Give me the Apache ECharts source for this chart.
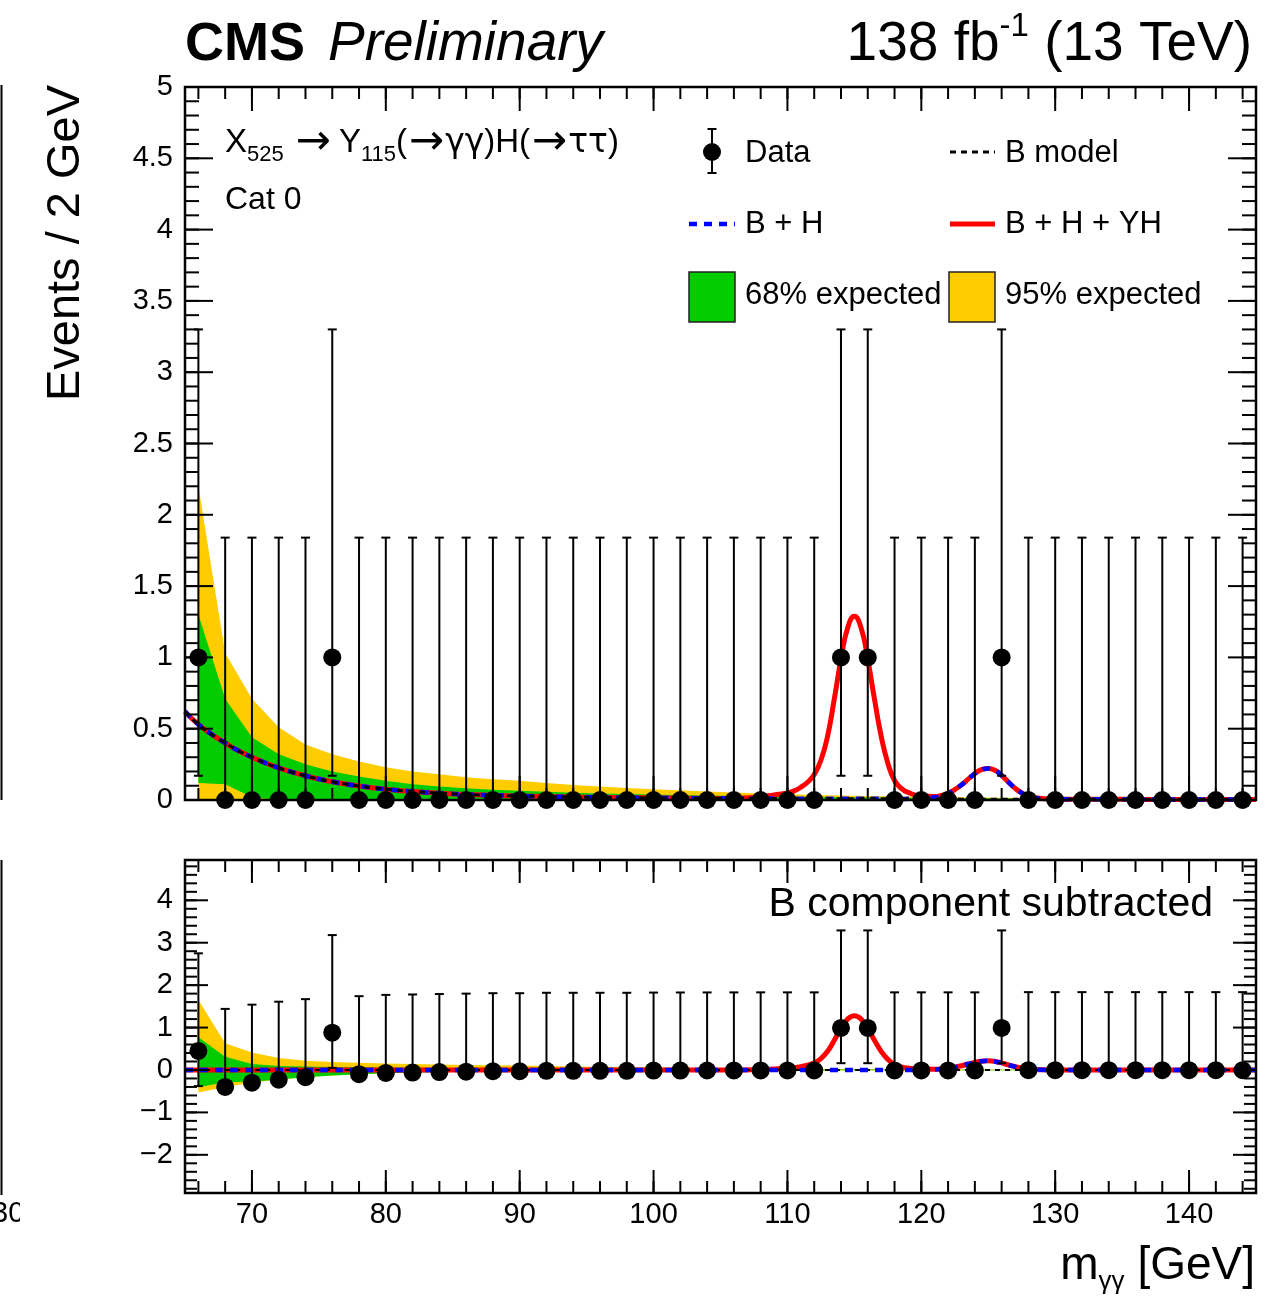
<!DOCTYPE html>
<html>
<head>
<meta charset="utf-8">
<title>X525 → Y115(→γγ)H(→ττ), Cat 0</title>
<script src="https://cdn.jsdelivr.net/npm/echarts@6/dist/echarts.min.js"></script>
<style>
  html, body { margin: 0; padding: 0; background: #fff; }
  #chart { width: 1277px; height: 1297px; }
</style>
</head>
<body>
<div id="chart"></div>
<script>
// observed events, 2 GeV bins
var binCenters = [66, 68, 70, 72, 74, 76, 78, 80, 82, 84, 86, 88, 90, 92, 94, 96, 98, 100, 102, 104,
                  106, 108, 110, 112, 114, 116, 118, 120, 122, 124, 126, 128, 130, 132, 134, 136, 138, 140, 142, 144];
var counts = [1, 0, 0, 0, 0, 1, 0, 0, 0, 0, 0, 0, 0, 0, 0, 0, 0, 0, 0, 0,
              0, 0, 0, 0, 1, 1, 0, 0, 0, 0, 1, 0, 0, 0, 0, 0, 0, 0, 0, 0];
// data minus B component (lower panel)
var residuals = [0.45, -0.40, -0.30, -0.23, -0.17, 0.88, -0.10, -0.07, -0.06, -0.05,
                 -0.04, -0.03, -0.03, -0.02, -0.02, -0.02, -0.02, -0.015, -0.013, -0.012,
                 -0.011, -0.01, -0.01, -0.01, 0.99, 0.99, -0.01, -0.01, -0.01, -0.01,
                 0.99, -0.005, -0.005, -0.005, -0.005, -0.005, -0.005, -0.005, -0.005, -0.005];
// poisson error bar sizes by count
var errUp = {0: 1.84, 1: 2.30};
var errDown = {0: 0, 1: 0.83};

// fit curves
var curveX = [65, 66, 67, 68, 69, 70, 71, 72, 73, 74, 75, 76, 77, 78, 79, 80,
              82, 84, 86, 88, 90, 92, 94, 96, 98, 100, 102, 104, 106, 108,
              109, 110,
              110.5, 111, 111.5, 112, 112.5, 113, 113.5, 114, 114.5, 115, 115.5, 116, 116.5, 117, 117.5, 118, 118.5, 119,
              120, 121,
              121.5, 122, 122.5, 123, 123.5, 124, 124.5, 125, 125.5, 126, 126.5, 127, 127.5, 128,
              129, 130,
              132, 134, 136, 138, 140, 142, 144, 145];
var bModel = [0.62, 0.53, 0.46, 0.40, 0.345, 0.30, 0.26, 0.225, 0.195, 0.17, 0.147, 0.128, 0.112, 0.098, 0.086, 0.076,
              0.060, 0.048, 0.039, 0.033, 0.028, 0.024, 0.021, 0.018, 0.016, 0.015, 0.013, 0.012, 0.011, 0.010,
              0.010, 0.009,
              0.009, 0.009, 0.009, 0.009, 0.009, 0.008, 0.008, 0.008, 0.008, 0.008, 0.008, 0.008, 0.008, 0.008, 0.008, 0.007, 0.007, 0.007,
              0.007, 0.007,
              0.007, 0.007, 0.007, 0.006, 0.006, 0.006, 0.006, 0.006, 0.006, 0.006, 0.006, 0.006, 0.006, 0.006,
              0.006, 0.005,
              0.005, 0.005, 0.004, 0.004, 0.004, 0.004, 0.004, 0.004];
var hSignal = [0, 0, 0, 0, 0, 0, 0, 0, 0, 0, 0, 0, 0, 0, 0, 0,
               0, 0, 0, 0, 0, 0, 0, 0, 0, 0, 0, 0, 0, 0,
               0, 0,
               0, 0, 0, 0, 0, 0, 0, 0, 0, 0, 0, 0, 0, 0, 0, 0, 0, 0.001,
               0.003, 0.012,
               0.022, 0.04, 0.066, 0.10, 0.14, 0.18, 0.207, 0.215, 0.202, 0.166, 0.12, 0.077, 0.043, 0.021,
               0.004, 0.001,
               0, 0, 0, 0, 0, 0, 0, 0];
var yhSignal = [0, 0, 0, 0, 0, 0, 0, 0, 0, 0, 0, 0, 0, 0, 0, 0,
                0, 0, 0, 0, 0, 0, 0, 0, 0, 0, 0, 0, 0, 0.012,
                0.025, 0.04,
                0.055, 0.08, 0.115, 0.17, 0.27, 0.44, 0.70, 0.98, 1.2, 1.28, 1.2, 0.98, 0.70, 0.44, 0.25, 0.13, 0.075, 0.045,
                0.018, 0.006,
                0.003, 0, 0, 0, 0, 0, 0, 0, 0, 0, 0, 0, 0, 0,
                0, 0,
                0, 0, 0, 0, 0, 0, 0, 0];

// expected bands
var bandX = [66, 68, 70, 72, 74, 76, 78, 80, 82, 84, 86, 88, 90, 92, 94, 96, 98, 100,
             104, 108, 112, 116, 120, 124, 128, 132, 136, 140, 144];
var band95Hi = [2.20, 1.03, 0.71, 0.51, 0.39, 0.32, 0.27, 0.23, 0.20, 0.18, 0.16, 0.145, 0.135, 0.12, 0.105, 0.095, 0.085, 0.075,
                0.06, 0.045, 0.035, 0.028, 0.022, 0.018, 0.014, 0.011, 0.009, 0.008, 0.007];
var band68Hi = [1.30, 0.71, 0.44, 0.32, 0.25, 0.20, 0.165, 0.135, 0.11, 0.095, 0.082, 0.072, 0.064, 0.057, 0.051, 0.046, 0.042, 0.038,
                0.031, 0.026, 0.021, 0.018, 0.015, 0.012, 0.010, 0.008, 0.007, 0.006, 0.005];
var band68Lo = [0.12, 0.11, 0.02, 0, 0, 0, 0, 0, 0, 0, 0, 0, 0, 0, 0, 0, 0, 0,
                0, 0, 0, 0, 0, 0, 0, 0, 0, 0, 0];
var band95Lo = [0, 0, 0, 0, 0, 0, 0, 0, 0, 0, 0, 0, 0, 0, 0, 0, 0, 0,
                0, 0, 0, 0, 0, 0, 0, 0, 0, 0, 0];
var sub95Hi = [1.65, 0.63, 0.41, 0.285, 0.22, 0.19, 0.17, 0.155, 0.14, 0.13, 0.12, 0.11, 0.105, 0.095, 0.085, 0.077, 0.07, 0.06,
               0.048, 0.035, 0.026, 0.02, 0.015, 0.012, 0.008, 0.006, 0.005, 0.004, 0.003];
var sub68Hi = [0.77, 0.31, 0.14, 0.095, 0.08, 0.072, 0.067, 0.059, 0.05, 0.047, 0.043, 0.039, 0.036, 0.033, 0.03, 0.028, 0.026, 0.023,
               0.019, 0.016, 0.012, 0.01, 0.008, 0.006, 0.004, 0.003, 0.003, 0.002, 0.001];
var sub68Lo = [-0.41, -0.29, -0.28, -0.225, -0.17, -0.128, -0.098, -0.076, -0.06, -0.048, -0.039, -0.033, -0.028, -0.024, -0.021, -0.018, -0.016, -0.015,
               -0.012, -0.010, -0.009, -0.008, -0.007, -0.006, -0.006, -0.005, -0.004, -0.004, -0.004];
var sub95Lo = [-0.53, -0.40, -0.30, -0.225, -0.17, -0.128, -0.098, -0.076, -0.06, -0.048, -0.039, -0.033, -0.028, -0.024, -0.021, -0.018, -0.016, -0.015,
               -0.012, -0.010, -0.009, -0.008, -0.007, -0.006, -0.006, -0.005, -0.004, -0.004, -0.004];

// tick labels
var xLabels = [70, 80, 90, 100, 110, 120, 130, 140];
var resYLabels = [-2, -1, 0, 1, 2, 3, 4];

var FONT = '"Liberation Sans", Arial, Helvetica, sans-serif';
var SYM = '"DejaVu Sans", sans-serif';
var GREEN = '#00cc00', YELLOW = '#ffcc00';

function range(a, b, step) {
    var out = [];
    for (var v = a; v <= b + 1e-9; v += step) out.push(Math.round(v * 1000) / 1000);
    return out;
}
var xMajorTicks = xLabels;
var xMinorTicks = range(66, 144, 2);

function pairs(xs, ys) {
    return xs.map(function (x, i) { return [x, ys[i]]; });
}

var bPlusH = bModel.map(function (b, i) { return b + hSignal[i]; });
var bPlusHPlusYH = bModel.map(function (b, i) { return b + hSignal[i] + yhSignal[i]; });
var hPlusYH = hSignal.map(function (h, i) { return h + yhSignal[i]; });
var bSubtracted = bModel.map(function () { return 0; });

function curve(name, grid, ys, color, width, dash, z) {
    return {
        type: 'line', name: name, xAxisIndex: grid, yAxisIndex: grid,
        data: pairs(curveX, ys), showSymbol: false, symbol: 'none',
        smooth: 0.5, silent: true, z: z,
        lineStyle: {color: color, width: width, type: dash || 'solid', join: 'round'}
    };
}

function band(name, grid, lo, hi, color, z) {
    var rows = bandX.map(function (x, i) { return [x, lo[i], hi[i]]; });
    return {
        type: 'custom', name: name, xAxisIndex: grid, yAxisIndex: grid, z: z, silent: true,
        data: rows, encode: {x: 0, y: [1, 2]},
        renderItem: function (params, api) {
            if (params.dataIndex !== 0) return null;
            var upper = rows.map(function (r) { return api.coord([r[0], r[2]]); });
            var lower = rows.map(function (r) { return api.coord([r[0], r[1]]); }).reverse();
            return {type: 'polygon', shape: {points: upper.concat(lower)}, style: {fill: color}};
        }
    };
}

function points(grid, ys) {
    var rows = binCenters.map(function (x, i) {
        var c = counts[i];
        return [x, ys[i], ys[i] - errDown[c], ys[i] + errUp[c]];
    });
    return {
        type: 'custom', name: 'Data', xAxisIndex: grid, yAxisIndex: grid, z: 20, silent: true,
        data: rows, encode: {x: 0, y: 1},
        renderItem: function (params, api) {
            var x = api.value(0), y = api.value(1), lo = api.value(2), hi = api.value(3);
            var p = api.coord([x, y]), pl = api.coord([x, lo]), ph = api.coord([x, hi]);
            var st = {stroke: '#000', lineWidth: 2};
            var kids = [
                {type: 'line', shape: {x1: p[0], y1: pl[1], x2: p[0], y2: ph[1]}, style: st},
                {type: 'line', shape: {x1: p[0] - 4.5, y1: ph[1], x2: p[0] + 4.5, y2: ph[1]}, style: st}
            ];
            if (lo < y) {
                kids.push({type: 'line', shape: {x1: p[0] - 4.5, y1: pl[1], x2: p[0] + 4.5, y2: pl[1]}, style: st});
            }
            kids.push({type: 'circle', shape: {cx: p[0], cy: p[1], r: 9}, style: {fill: '#000'}});
            return {type: 'group', children: kids};
        }
    };
}

// frame box with inward ticks on all four sides
function frame(grid, yMajor, yMinor, len) {
    return {
        type: 'custom', xAxisIndex: grid, yAxisIndex: grid, z: 30, silent: true, clip: false,
        data: [[xMajorTicks[0], yMajor[0]]],
        renderItem: function (params, api) {
            var cs = params.coordSys;
            var L = cs.x, R = cs.x + cs.width, T = cs.y, B = cs.y + cs.height;
            var kids = [];
            function seg(x1, y1, x2, y2) {
                kids.push({type: 'line', shape: {x1: x1, y1: y1, x2: x2, y2: y2}, style: {stroke: '#000', lineWidth: 2}});
            }
            xMinorTicks.forEach(function (v) {
                var px = api.coord([v, yMajor[0]])[0];
                seg(px, B, px, B - len.xMinor); seg(px, T, px, T + len.xMinor);
            });
            xMajorTicks.forEach(function (v) {
                var px = api.coord([v, yMajor[0]])[0];
                seg(px, B, px, B - len.xMajor); seg(px, T, px, T + len.xMajor);
            });
            yMinor.forEach(function (v) {
                var py = api.coord([xMajorTicks[0], v])[1];
                seg(L, py, L + len.yMinor, py); seg(R, py, R - len.yMinor, py);
            });
            yMajor.forEach(function (v) {
                var py = api.coord([xMajorTicks[0], v])[1];
                seg(L, py, L + len.yMajor, py); seg(R, py, R - len.yMajor, py);
            });
            kids.push({type: 'rect', shape: {x: L, y: T, width: cs.width, height: cs.height},
                       style: {fill: 'none', stroke: '#000', lineWidth: 2.5}});
            return {type: 'group', children: kids};
        }
    };
}

function txt(x, y, text, size, extra) {
    var style = {text: text, fontSize: size, fontFamily: FONT, fill: '#000',
                 align: 'left', textAlign: 'left', verticalAlign: 'middle', textVerticalAlign: 'middle'};
    extra = extra || {};
    for (var k in extra) style[k] = extra[k];
    if (extra.align) style.textAlign = extra.align;
    return {type: 'text', x: x, y: y, z: 100, style: style};
}
function tok(size, lh, va, family, pad) {
    var t = {fontSize: size, fontFamily: family || FONT, fill: '#000', lineHeight: lh};
    if (va) t.verticalAlign = va;
    if (pad) t.padding = pad;
    return t;
}
function gline(x1, y1, x2, y2, color, width, dash) {
    return {type: 'line', z: 100, shape: {x1: x1, y1: y1, x2: x2, y2: y2},
            style: {stroke: color, lineWidth: width, lineDash: dash || null}};
}

var axisText = {fontSize: 29, color: '#000', fontFamily: FONT};

var option = {
    backgroundColor: '#fff',
    animation: false,
    grid: [
        {left: 185, top: 87, width: 1071, height: 713, containLabel: false, outerBoundsMode: 'none'},
        {left: 185, top: 860, width: 1071, height: 333, containLabel: false, outerBoundsMode: 'none'}
    ],
    xAxis: [
        {gridIndex: 0, type: 'value', min: 65, max: 145,
         axisLine: {show: false}, axisTick: {show: false}, splitLine: {show: false}, axisLabel: {show: false}},
        {gridIndex: 1, type: 'value', min: 65, max: 145,
         axisLine: {show: false}, axisTick: {show: false}, splitLine: {show: false},
         axisLabel: Object.assign({customValues: xLabels, margin: 7}, axisText)}
    ],
    yAxis: [
        {gridIndex: 0, type: 'value', min: 0, max: 5, interval: 0.5,
         axisLine: {show: false}, axisTick: {show: false}, splitLine: {show: false},
         axisLabel: Object.assign({margin: 12}, axisText)},
        {gridIndex: 1, type: 'value', min: -2.9, max: 4.95,
         axisLine: {show: false}, axisTick: {show: false}, splitLine: {show: false},
         axisLabel: Object.assign({customValues: resYLabels, margin: 12,
             formatter: function (v) { return String(v).replace('-', '\u2212'); }}, axisText)}
    ],
    series: [
        band('95% expected', 0, band95Lo, band95Hi, YELLOW, 1),
        band('68% expected', 0, band68Lo, band68Hi, GREEN, 2),
        curve('B + H + YH', 0, bPlusHPlusYH, '#ff0000', 5, null, 3),
        curve('B + H', 0, bPlusH, '#0000ff', 4.5, [8, 7], 4),
        curve('B model', 0, bModel, '#000000', 3, [6, 5], 5),
        points(0, counts),
        frame(0, range(0, 5, 0.5), range(0, 5, 0.1), {xMajor: 24, xMinor: 12, yMajor: 28, yMinor: 14}),

        band('95% expected', 1, sub95Lo, sub95Hi, YELLOW, 1),
        band('68% expected', 1, sub68Lo, sub68Hi, GREEN, 2),
        curve('B + H + YH', 1, hPlusYH, '#ff0000', 5, null, 3),
        curve('B model', 1, bSubtracted, '#000000', 2, [5, 5], 4),
        curve('B + H', 1, hSignal, '#0000ff', 4.5, [8, 7], 5),
        points(1, residuals),
        frame(1, range(-2, 4, 1), range(-2.8, 4.8, 0.2), {xMajor: 23, xMinor: 12, yMajor: 23, yMinor: 12})
    ],
    graphic: [
        txt(185, 45, 'CMS', 54, {fontWeight: 'bold'}),
        txt(328, 45, 'Preliminary', 55, {fontStyle: 'italic'}),
        txt(1252, 45, '{n|138 fb}{s|-1}{n| (13 TeV)}', 55,
            {align: 'right', rich: {n: tok(55, 70), s: tok(33, 33, 'top')}}),
        txt(225, 143, '{n|X}{s|525}{a|\u2192}{n|Y}{s|115}{n|(}{b|\u2192}{g|\u03b3\u03b3}{n|)H(}{b|\u2192}{g|\u03c4\u03c4}{n|)}', 33,
            {rich: {n: tok(33, 46), s: tok(22, 22, 'bottom'),
                    a: tok(42, 46, null, SYM, [0, 8, 0, 12]), b: tok(42, 46, null, SYM, [0, 1, 0, 2]),
                    g: tok(33, 46, null, SYM)}}),
        txt(225, 200, 'Cat 0', 32),

        // legend
        gline(712, 129, 712, 173, '#000', 2),
        gline(707.5, 129, 716.5, 129, '#000', 2),
        gline(707.5, 173, 716.5, 173, '#000', 2),
        {type: 'circle', z: 101, shape: {cx: 712, cy: 152, r: 9}, style: {fill: '#000'}},
        txt(745, 153, 'Data', 31),
        gline(950, 152, 995, 152, '#000', 3, [6, 5]),
        txt(1005, 153, 'B model', 31),
        gline(689, 224, 735, 224, '#0000ff', 4.5, [8, 7]),
        txt(745, 224, 'B + H', 31),
        gline(950, 224, 995, 224, '#ff0000', 5),
        txt(1005, 224, 'B + H + YH', 31),
        {type: 'rect', z: 100, shape: {x: 689, y: 272, width: 46, height: 50}, style: {fill: GREEN, stroke: '#222', lineWidth: 1.5}},
        txt(745, 295, '68% expected', 31),
        {type: 'rect', z: 100, shape: {x: 949, y: 272, width: 46, height: 50}, style: {fill: YELLOW, stroke: '#222', lineWidth: 1.5}},
        txt(1005, 295, '95% expected', 31),

        txt(1213, 905, 'B component subtracted', 41, {align: 'right'}),

        // axis titles
        {type: 'text', x: 66, y: 85, rotation: Math.PI / 2, z: 100,
         style: {text: 'Events / 2 GeV', fontSize: 47, fontFamily: FONT, fill: '#000',
                 align: 'right', textAlign: 'right', verticalAlign: 'middle', textVerticalAlign: 'middle'}},
        txt(1255, 1266, '{n|m}{s|\u03b3\u03b3}{n| [GeV]}', 46,
            {align: 'right', rich: {n: tok(46, 58), s: tok(26, 26, 'bottom')}}),

        // edge of the neighbouring figure
        gline(1.5, 85, 1.5, 800, '#000', 2),
        gline(1.5, 860, 1.5, 1195, '#000', 2),
        txt(-8, 1214, '30', 29),
        {type: 'rect', z: 101, shape: {x: 20, y: 1198, width: 30, height: 34}, style: {fill: '#fff'}}
    ]
};

var chart = echarts.init(document.getElementById('chart'));
chart.setOption(option);
</script>
</body>
</html>
